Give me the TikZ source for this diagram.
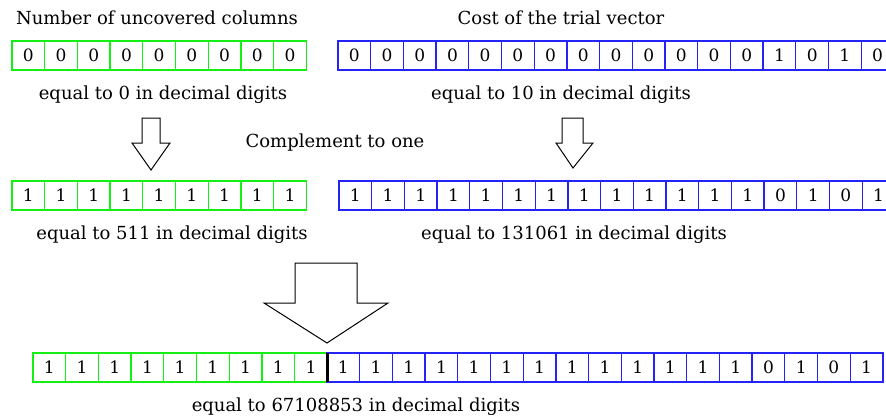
\documentclass[tikz,border=0pt]{standalone}
\usepackage{fontspec}
\setmainfont{DejaVu Serif}
\definecolor{bitgreen}{RGB}{20,240,20}
\definecolor{bitblue}{RGB}{35,35,250}
\tikzset{
  cell/.style={draw, line width=1.3pt, minimum width=32.7pt, minimum height=29pt,
    inner sep=0pt, outer sep=0pt, font=\fontsize{17}{19}\selectfont},
  greencell/.style={cell, draw=bitgreen},
  bluecell/.style={cell, draw=bitblue},
  caption/.style={inner sep=0pt, font=\fontsize{18}{21}\selectfont},
  hollow/.style={draw, line width=1pt, fill=white, line join=miter}
}
\begin{document}
\begin{tikzpicture}[x=1pt,y=-1pt]
\useasboundingbox (0,0) rectangle (886,420);

% first row
\node [caption] (ncols) at (157,18) {Number of uncovered columns};
\node [caption] (cost) at (561,18) {Cost of the trial vector};
\foreach \b [count=\i] in {0,0,0,0,0,0,0,0,0}
  \node [greencell] (za\i) at (12+32.7*\i-16.35,55.5) {\b};
\foreach \b [count=\i] in {0,0,0,0,0,0,0,0,0,0,0,0,0,1,0,1,0}
  \node [bluecell] (zb\i) at (338+32.7*\i-16.35,55.5) {\b};
\node [caption] (dza) at (163,95) {equal to 0 in decimal digits};
\node [caption] (dzb) at (561,95) {equal to 10 in decimal digits};

% complement
\node [caption] (compl) at (335,143) {Complement to one};
\draw [hollow] (142,118) -- (160,118) -- (160,143) -- (170,143) -- (151,170)
  -- (132,143) -- (142,143) -- cycle;
\draw [hollow] (562,118) -- (583,118) -- (583,143) -- (593,143) -- (573,168)
  -- (556,143) -- (562,143) -- cycle;

% second row
\foreach \b [count=\i] in {1,1,1,1,1,1,1,1,1}
  \node [greencell] (oa\i) at (12+32.7*\i-16.35,195.5) {\b};
\foreach \b [count=\i] in {1,1,1,1,1,1,1,1,1,1,1,1,1,0,1,0,1}
  \node [bluecell] (ob\i) at (339+32.7*\i-16.35,195.5) {\b};
\node [caption] (doa) at (172,235) {equal to 511 in decimal digits};
\node [caption] (dob) at (574,235) {equal to 131061 in decimal digits};

% joined row
\draw [hollow] (295,263) -- (357,263) -- (357,303) -- (388,303) -- (327,343)
  -- (264,303) -- (295,303) -- cycle;
\foreach \b [count=\i] in {1,1,1,1,1,1,1,1,1}
  \node [greencell] (ja\i) at (33+32.7*\i-16.35,367.5) {\b};
\foreach \b [count=\i] in {1,1,1,1,1,1,1,1,1,1,1,1,1,0,1,0,1}
  \node [bluecell] (jb\i) at (327+32.7*\i-16.35,367.5) {\b};
\draw [line width=2.5pt] (ja9.north east) -- (ja9.south east);
\node [caption] (dj) at (356,407) {equal to 67108853 in decimal digits};
\end{tikzpicture}
\end{document}
